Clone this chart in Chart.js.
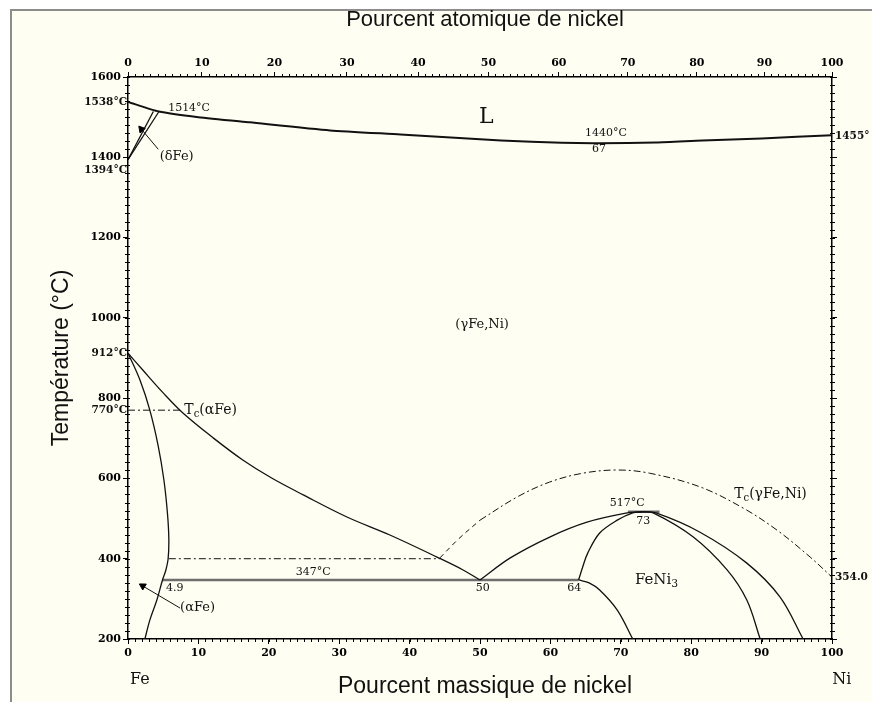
<!DOCTYPE html>
<html>
<head>
<meta charset="utf-8">
<script src="https://cdn.jsdelivr.net/npm/chart.js@4.4.0/dist/chart.umd.min.js"></script>
<style>
    body { margin: 0; background: #fff; overflow: hidden; }
    #frame {
        position: absolute; left: 10px; top: 9px; width: 900px; height: 720px;
        border-left: 2px solid #8c8c8c; border-top: 2px solid #8c8c8c;
        background: #fffef2;
    }
    #wrap { position: absolute; left: 0; top: 0; width: 872px; height: 702px; }
</style>
</head>
<body>
<div id="frame"></div>
<div id="wrap"><canvas id="c" width="872" height="702"></canvas></div>
<script>
// axis ticks
const bottomTicks = [0, 10, 20, 30, 40, 50, 60, 70, 80, 90, 100];
const topTickLabels = [0, 10, 20, 30, 40, 50, 60, 70, 80, 90, 100];   // at.% Ni
const topTickWt = [0, 10.5, 20.8, 31.1, 41.2, 51.2, 61.2, 71.0, 80.8, 90.4, 100]; // same, in wt.%
const tempTicks = [200, 400, 600, 800, 1000, 1200, 1400, 1600];

// phase boundaries (wt.% Ni, °C)
const liquidusWt = [0, 4.4, 10, 17.3, 28.7, 38.7, 53, 61.6, 67, 75, 81.6, 90, 100];
const liquidusT = [1538, 1514, 1500, 1487, 1467, 1457, 1442, 1436, 1435, 1437, 1442, 1447, 1455];
const deltaAWt = [0, 3.6];
const deltaAT = [1394, 1514];
const deltaBWt = [0, 4.4];
const deltaBT = [1394, 1514];
const gammaWt = [0, 2.1, 5.0, 7.8, 12.1, 16.3, 20.4, 24.9, 31.1, 37.2, 43.9, 47.6, 50];
const gammaT = [912, 870, 813, 763, 701, 646, 601, 559, 504, 459, 404, 372, 347];
const alphaWt = [0, 1.7, 3.1, 4.3, 5.1, 5.6, 5.8, 5.7, 5.35, 4.9, 4.1, 3.1, 2.4];
const alphaT = [912, 845, 770, 680, 596, 514, 450, 400, 370, 347, 297, 247, 200];
const eutectoidWt = [4.9, 64];
const eutectoidT = [347, 347];
const ordLeftWt = [50, 54.3, 59.9, 65.2, 70.9, 73];
const ordLeftT = [347, 402, 454, 491, 514, 517];
const feni3LeftWt = [64, 64.6, 65.3, 67.0, 69.5, 71.7, 73];
const feni3LeftT = [347, 380, 414, 464, 496, 514, 517];
const feni3RightWt = [73, 74.6, 80.3, 85.1, 87.9, 89.8];
const feni3RightT = [517, 514, 454, 372, 297, 200];
const gammaRightWt = [73, 75, 81.25, 87.9, 92.6, 95.9];
const gammaRightT = [517, 514, 466, 389, 305, 200];
const lowWt = [64, 65.5, 67.0, 69.5, 71.7];
const lowT = [347, 340, 322, 272, 200];
const plateauWt = [71, 75.5];
const plateauT = [517, 517];

// magnetic (Curie) lines
const tcAlphaWt = [0, 7.6];
const tcAlphaT = [770, 770];
const tc400Wt = [5.8, 44.3];
const tc400T = [400, 400];
const tcGammaDashWt = [44.3, 47, 50];
const tcGammaDashT = [402, 450, 496];
const tcGammaWt = [50, 55.3, 59.9, 64.6, 69.5, 74.1, 81.25, 87.4, 92.2, 96.9, 100];
const tcGammaT = [496, 554, 591, 613, 621, 613, 579, 526, 471, 404, 354];

// label arrows
const deltaArrowWt = [4.3, 1.9];
const deltaArrowT = [1420, 1470];
const alphaArrowWt = [7.4, 2.1];
const alphaArrowT = [277, 332];

const serif = '"DejaVu Serif", serif';
const sans = '"Liberation Sans", Arial, sans-serif';

function pts(xs, ys) { return xs.map((x, i) => ({ x: x, y: ys[i] })); }
function line(xs, ys, opts) {
    return Object.assign({
        data: pts(xs, ys), showLine: true, pointRadius: 0, borderColor: '#111',
        borderWidth: 1.3, tension: 0.35, fill: false
    }, opts || {});
}
function arrow(xs, ys, rot) {
    return line(xs, ys, {
        tension: 0, borderWidth: 1,
        pointRadius: (c) => c.dataIndex === 1 ? 4 : 0,
        pointStyle: 'triangle', rotation: rot,
        pointBackgroundColor: '#000', pointBorderColor: '#000'
    });
}

// text placed in data coordinates
const notes = [
    { parts: [['L']], wt: 50.9, t: 1500, align: 'center', size: 22 },
    { parts: [['1514°C']], wt: 5.7, t: 1523, align: 'left', size: 11 },
    { parts: [['(δFe)']], wt: 4.5, t: 1401, align: 'left', size: 13 },
    { parts: [['1440°C']], wt: 67.9, t: 1460, align: 'center', size: 11 },
    { parts: [['67']], wt: 66.9, t: 1421, align: 'center', size: 11 },
    { parts: [['(γFe,Ni)']], wt: 50.3, t: 982, align: 'center', size: 13 },
    { parts: [['T'], ['c', 1], ['(αFe)']], wt: 8.0, t: 770, align: 'left', size: 14 },
    { parts: [['T'], ['c', 1], ['(γFe,Ni)']], wt: 86.1, t: 561, align: 'left', size: 14 },
    { parts: [['517°C']], wt: 70.9, t: 539, align: 'center', size: 11 },
    { parts: [['73']], wt: 73.2, t: 494, align: 'center', size: 11 },
    { parts: [['347°C']], wt: 26.3, t: 367, align: 'center', size: 11 },
    { parts: [['4.9']], wt: 5.4, t: 327, align: 'left', size: 11 },
    { parts: [['50']], wt: 50.4, t: 327, align: 'center', size: 11 },
    { parts: [['64']], wt: 63.4, t: 327, align: 'center', size: 11 },
    { parts: [['FeNi'], ['3', 1]], wt: 72, t: 347, align: 'left', size: 15 },
    { parts: [['(αFe)']], wt: 7.4, t: 277, align: 'left', size: 13 }
];
// text beside the vertical axes
const leftNotes = [['1538°C', 1538], ['1394°C', 1368], ['912°C', 912], ['770°C', 770]];
const rightNotes = [['1455°', 1452], ['354.0', 354]];

function drawRich(ctx, parts, x, y, align, size) {
    const widths = parts.map(p => {
        ctx.font = (p[1] ? size * 0.72 : size) + 'px ' + serif;
        return ctx.measureText(p[0]).width;
    });
    const total = widths.reduce((a, b) => a + b, 0);
    let cx = align === 'center' ? x - total / 2 : (align === 'right' ? x - total : x);
    parts.forEach((p, i) => {
        ctx.font = (p[1] ? size * 0.72 : size) + 'px ' + serif;
        ctx.fillText(p[0], cx, p[1] ? y + size * 0.3 : y);
        cx += widths[i];
    });
}

const decor = {
    id: 'decor',
    afterDraw(chart) {
        const ctx = chart.ctx;
        const a = chart.chartArea;
        const xs = chart.scales.x, ys = chart.scales.y;
        ctx.save();
        ctx.strokeStyle = '#000';
        ctx.lineWidth = 1;
        ctx.beginPath();
        // minor ticks, temperature axes
        for (let t = 200; t <= 1600; t += 20) {
            const py = Math.round(ys.getPixelForValue(t)) + 0.5;
            ctx.moveTo(a.left - 3, py); ctx.lineTo(a.left + 2, py);
            ctx.moveTo(a.right - 2, py); ctx.lineTo(a.right + 3, py);
        }
        // minor ticks, wt.% axis
        for (let w = 0; w <= 100; w += 1) {
            const px = Math.round(xs.getPixelForValue(w)) + 0.5;
            ctx.moveTo(px, a.bottom); ctx.lineTo(px, a.bottom + 3);
        }
        // minor ticks, at.% axis (10 per major step)
        for (let i = 0; i < topTickWt.length - 1; i++) {
            for (let k = 1; k < 10; k++) {
                const w = topTickWt[i] + (topTickWt[i + 1] - topTickWt[i]) * k / 10;
                const px = Math.round(xs.getPixelForValue(w)) + 0.5;
                ctx.moveTo(px, a.top); ctx.lineTo(px, a.top - 3);
            }
        }
        ctx.stroke();

        ctx.fillStyle = '#111';
        ctx.textBaseline = 'middle';
        notes.forEach(n => {
            drawRich(ctx, n.parts, xs.getPixelForValue(n.wt), ys.getPixelForValue(n.t), n.align, n.size);
        });
        ctx.font = 'bold 10.5px ' + serif;
        ctx.textAlign = 'right';
        leftNotes.forEach(n => ctx.fillText(n[0], a.left - 1, ys.getPixelForValue(n[1])));
        ctx.textAlign = 'left';
        rightNotes.forEach(n => ctx.fillText(n[0], a.right + 3, ys.getPixelForValue(n[1])));

        ctx.font = '16px ' + serif;
        ctx.textAlign = 'center';
        ctx.fillText('Fe', xs.getPixelForValue(1.7), a.bottom + 41);
        ctx.fillText('Ni', xs.getPixelForValue(101.4), a.bottom + 41);

        // axis titles
        ctx.font = '22px ' + sans;
        ctx.fillText('Pourcent atomique de nickel', 485, 20);
        ctx.font = '23px ' + sans;
        ctx.fillText('Pourcent massique de nickel', 485, 687);
        ctx.translate(62, 358);
        ctx.rotate(-Math.PI / 2);
        ctx.fillText('Température (°C)', 0, 0);
        ctx.restore();
    }
};

const tickFont = { family: serif, size: 11, weight: 'bold' };
const gridOpts = { drawOnChartArea: false, tickLength: 5, color: '#000', tickColor: '#000' };
const borderOpts = { color: '#000', width: 1.5 };
const plain = (v) => String(v);

new Chart(document.getElementById('c'), {
    type: 'scatter',
    data: {
        datasets: [
            line(liquidusWt, liquidusT, { borderWidth: 2, tension: 0.2 }),
            line(deltaAWt, deltaAT, { tension: 0 }),
            line(deltaBWt, deltaBT, { tension: 0 }),
            line(gammaWt, gammaT),
            line(alphaWt, alphaT),
            line(ordLeftWt, ordLeftT),
            line(feni3LeftWt, feni3LeftT),
            line(feni3RightWt, feni3RightT),
            line(gammaRightWt, gammaRightT),
            line(lowWt, lowT),
            line(eutectoidWt, eutectoidT, { tension: 0, borderWidth: 2.5, borderColor: '#6e6e6e' }),
            line(plateauWt, plateauT, { tension: 0, borderWidth: 2.5, borderColor: '#6e6e6e' }),
            line(tcAlphaWt, tcAlphaT, { tension: 0, borderWidth: 1, borderDash: [7, 3, 2, 3] }),
            line(tc400Wt, tc400T, { tension: 0, borderWidth: 1, borderDash: [7, 3, 2, 3] }),
            line(tcGammaDashWt, tcGammaDashT, { borderWidth: 1, borderDash: [5, 4] }),
            line(tcGammaWt, tcGammaT, { borderWidth: 1, borderDash: [7, 3, 2, 3] }),
            arrow(deltaArrowWt, deltaArrowT, -40),
            arrow(alphaArrowWt, alphaArrowT, -59)
        ]
    },
    options: {
        responsive: false,
        animation: false,
        layout: { padding: 0 },
        plugins: { legend: { display: false }, tooltip: { enabled: false } },
        scales: {
            x: {
                type: 'linear', position: 'bottom', min: 0, max: 100,
                afterBuildTicks: (s) => { s.ticks = bottomTicks.map(v => ({ value: v })); },
                afterFit: (s) => { s.height = 63; },
                ticks: { font: tickFont, color: '#000', padding: 3, autoSkip: false, maxRotation: 0, callback: plain },
                grid: gridOpts, border: borderOpts
            },
            x2: {
                type: 'linear', position: 'top', min: 0, max: 100,
                afterBuildTicks: (s) => { s.ticks = topTickWt.map(v => ({ value: v })); },
                afterFit: (s) => { s.height = 77; },
                ticks: {
                    font: tickFont, color: '#000', padding: 2, autoSkip: false, maxRotation: 0,
                    callback: (v, i) => String(topTickLabels[i])
                },
                grid: gridOpts, border: borderOpts
            },
            y: {
                type: 'linear', position: 'left', min: 200, max: 1600,
                afterBuildTicks: (s) => { s.ticks = tempTicks.map(v => ({ value: v })); },
                afterFit: (s) => { s.width = 128; },
                ticks: { font: tickFont, color: '#000', padding: 2, autoSkip: false, callback: plain },
                grid: gridOpts, border: borderOpts
            },
            y2: {
                type: 'linear', position: 'right', min: 200, max: 1600,
                afterBuildTicks: (s) => { s.ticks = tempTicks.map(v => ({ value: v })); },
                afterFit: (s) => { s.width = 40; },
                ticks: { display: false },
                grid: gridOpts, border: borderOpts
            }
        }
    },
    plugins: [decor]
});
</script>
</body>
</html>
